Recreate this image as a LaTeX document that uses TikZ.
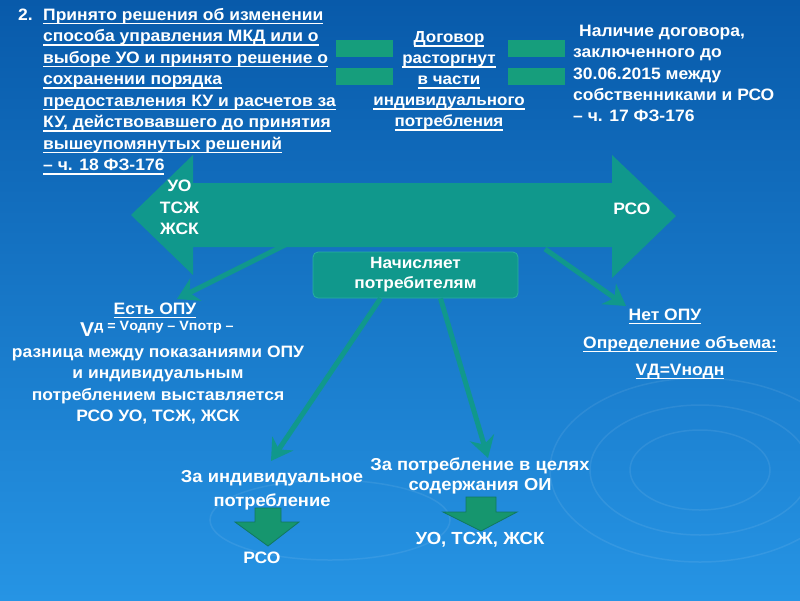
\documentclass[tikz,border=0pt]{standalone}
\usepackage{fontspec}
\setmainfont{Liberation Sans}[FakeStretch=1.06]
\usetikzlibrary{arrows.meta}
\newsavebox{\myulbox}
\newcommand{\myul}[1]{\sbox{\myulbox}{#1}\rlap{\rule[-3.8pt]{\wd\myulbox}{1.4pt}}\usebox{\myulbox}}
\definecolor{bgtop}{RGB}{8,90,170}
\definecolor{bgbot}{RGB}{38,148,228}
\definecolor{tealA}{RGB}{16,152,140}
\definecolor{tealB}{RGB}{40,175,160}
\definecolor{eqgreen}{RGB}{22,158,124}
\definecolor{blkgreen}{RGB}{22,150,110}
\definecolor{blkedge}{RGB}{18,120,95}
\tikzset{
  txt/.style={inner sep=0pt, text=white, font=\fontsize{16.5}{21.5}\selectfont\bfseries},
  conn/.style={draw=tealA, line width=5pt, -{Stealth[length=21pt,width=25pt,inset=7pt]}},
  eqbar/.style={fill=eqgreen, draw=none},
  blockarrow/.style={fill=blkgreen, draw=blkedge, line width=0.8pt},
}
\begin{document}
\begin{tikzpicture}[x=1pt,y=-1pt]
\useasboundingbox (0,0) rectangle (800,600);
% background
\shade[top color=bgtop, bottom color=bgbot] (0,0) rectangle (800,600);
\begin{scope}[white, opacity=0.08, line width=1.5pt]
  \draw (700,470) ellipse (70 and 40);
  \draw (700,470) ellipse (110 and 65);
  \draw (700,470) ellipse (150 and 92);
  \draw (330,520) ellipse (120 and 40);
\end{scope}

% top-left text
\node[txt, anchor=base west] (num) at (18,20.5) {2.};
\node[txt, anchor=north west, align=left] (cond) at (43,8) {%
\myul{Принято решения об изменении}\\
\myul{способа управления МКД или о}\\
\myul{выборе УО и принято решение о}\\
\myul{сохранении порядка}\\
\myul{предоставления КУ и расчетов за}\\
\myul{КУ, действовавшего до принятия}\\
\myul{вышеупомянутых решений}\\
\myul{– ч. 18 ФЗ-176}};

% equal bars
\fill[eqbar] (336,40) rectangle (393,57);
\fill[eqbar] (336,68) rectangle (393,85);
\fill[eqbar] (508,40) rectangle (565,57);
\fill[eqbar] (508,68) rectangle (565,85);

% center text
\node[txt, anchor=north, align=center, font=\fontsize{16}{21}\selectfont\bfseries] (dog) at (449,31.5) {%
\myul{Договор}\\ \myul{расторгнут}\\ \myul{в части}\\ \myul{индивидуального}\\ \myul{потребления}};

% right text
\node[txt, anchor=north west, align=left, font=\fontsize{16.5}{21.3}\selectfont\bfseries] (nal) at (573,25) {%
\hspace*{6pt}Наличие договора,\\
заключенного до\\
30.06.2015 между\\
собственниками и РСО\\
– ч. 17 ФЗ-176};

% double arrow
\coordinate (lt) at (131,215);
\coordinate (rt) at (676,216);
\fill[tealA] (lt) -- (193,155) -- (193,183) -- (612,183) -- (612,155) -- (rt)
  -- (612,278) -- (612,247) -- (193,247) -- (193,275) -- cycle;
\node[txt, anchor=north, align=center, font=\fontsize{16.5}{21.5}\selectfont\bfseries] (uo) at (179.5,180) {УО\\ТСЖ\\ЖСК};
\node[txt, anchor=center] (rso) at (632,209) {РСО};

% box
\node[draw=tealB, line width=0.8pt, fill=tealA, rounded corners=5pt, minimum width=205pt, minimum height=46pt,
      align=center, text=white, font=\fontsize{16.3}{20}\selectfont\bfseries] (box) at (415.5,275) {Начисляет\\потребителям};

% connectors
\coordinate (s1) at (287,244);
\coordinate (t1) at (177,299);
\coordinate (t2) at (271,461);
\coordinate (t3) at (488,458);
\coordinate (s4) at (545,249);
\coordinate (t4) at (626,306);
\draw[conn] (s1) -- (t1);
\draw[conn] ([xshift=-35pt]box.south) -- (t2);
\draw[conn] ([xshift=25pt]box.south) -- (t3);
\draw[conn] (s4) -- (t4);

% left lower block
\node[txt, anchor=base] (est) at (155,314.5) {\myul{Есть ОПУ}};
\node[txt, anchor=base west] (form) at (80,336) {{\fontsize{20}{20}\selectfont V}\raisebox{6pt}{\fontsize{13.5}{13.5}\selectfont д = Vодпу – Vпотр –}};
\node[txt, anchor=north, align=center] (estt) at (158,345.5) {%
разница между показаниями ОПУ\\
и индивидуальным\\
потреблением выставляется\\
РСО УО, ТСЖ, ЖСК};

% right lower block
\node[txt, anchor=base] (net) at (665,320.5) {\myul{Нет ОПУ}};
\node[txt, anchor=base] (opr) at (680,348.5) {\myul{Определение объема:}};
\node[txt, anchor=base] (vd) at (680,375.5) {\myul{VД=Vнодн}};

% bottom blocks
\node[txt, anchor=north, align=center, font=\fontsize{17.3}{23.5}\selectfont\bfseries] (ind) at (272,470.5) {За индивидуальное\\потребление};
\node[txt, anchor=north, align=center, font=\fontsize{17.3}{20.5}\selectfont\bfseries] (soi) at (480,457.5) {За потребление в целях\\содержания ОИ};
\draw[blockarrow] (255,508) -- (281,508) -- (281,522) -- (299,522) -- (268,546) -- (235,522) -- (255,522) -- cycle;
\draw[blockarrow] (466,497) -- (496,497) -- (496,512) -- (517,512) -- (481,531) -- (443,512) -- (466,512) -- cycle;
\node[txt, anchor=base] (rso2) at (262,563) {РСО};
\node[txt, anchor=base, font=\fontsize{17.5}{20}\selectfont\bfseries] (uo2) at (480,544) {УО, ТСЖ, ЖСК};
\end{tikzpicture}
\end{document}
